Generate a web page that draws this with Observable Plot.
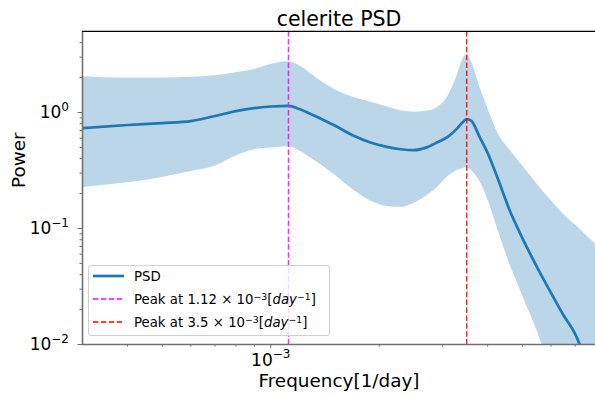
<!DOCTYPE html>
<html>
<head>
<meta charset="utf-8">
<script src="https://cdn.jsdelivr.net/npm/d3@7"></script>
<script src="https://cdn.jsdelivr.net/npm/@observablehq/plot@0.6"></script>
<style>
  html, body { margin: 0; padding: 0; background: white; }
  #wrap { position: relative; width: 595px; height: 397px; font-family: "DejaVu Sans", sans-serif; overflow: hidden; }
  #legend { position: absolute; left: 88px; top: 265px; width: 242px; height: 71px; border: 1px solid #d0d0d0; border-radius: 3px; background: rgba(255,255,255,0.8); box-sizing: border-box; }
  .row { position: absolute; left: 0; height: 20px; display: flex; align-items: center; font-size: 13.3px; white-space: nowrap; color: #000; }
  .row svg { margin-left: 4px; margin-right: 10px; }
  .row sup { font-size: 0.7em; vertical-align: 0.45em; line-height: 0; }
</style>
</head>
<body>
<div id="wrap"></div>
<script>
// ---- data ----
const freq = [3.0e-4, 4e-4, 5e-4, 6e-4, 7e-4, 8e-4, 9e-4, 1.0e-3, 1.12e-3, 1.2e-3, 1.3e-3, 1.4e-3, 1.5e-3, 1.7e-3, 1.9e-3, 2.1e-3, 2.3e-3, 2.5e-3, 2.7e-3, 2.9e-3, 3.1e-3, 3.3e-3, 3.4e-3, 3.5e-3, 3.6e-3, 3.8e-3, 4.0e-3, 4.3e-3, 4.6e-3, 5.0e-3, 5.5e-3, 6.0e-3, 6.5e-3, 7.0e-3, 7.5e-3, 8.0e-3, 8.5e-3];
const psd = [0.734, 0.780, 0.810, 0.843, 0.933, 1.028, 1.091, 1.126, 1.142, 1.07, 0.96, 0.862, 0.775, 0.630, 0.548, 0.506, 0.482, 0.474, 0.498, 0.553, 0.617, 0.734, 0.815, 0.877, 0.850, 0.617, 0.449, 0.254, 0.145, 0.0823, 0.0458, 0.0279, 0.01785, 0.01237, 0.0074, 0.00506, 0.0035];
const upper = [2.031, 1.980, 1.980, 2.012, 2.072, 2.203, 2.343, 2.588, 2.736, 2.527, 2.126, 1.800, 1.585, 1.344, 1.227, 1.120, 1.034, 1.006, 1.026, 1.10, 1.366, 2.113, 2.791, 3.144, 2.791, 1.682, 1.098, 0.639, 0.480, 0.347, 0.239, 0.174, 0.1328, 0.1076, 0.0877, 0.0724, 0.0593];
const lower = [0.2256, 0.2477, 0.2753, 0.310, 0.3438, 0.4209, 0.477, 0.4933, 0.5062, 0.4675, 0.399, 0.3424, 0.292, 0.2139, 0.1716, 0.155, 0.1523, 0.1649, 0.1895, 0.2252, 0.279, 0.3175, 0.3271, 0.3356, 0.3175, 0.2562, 0.18, 0.0918, 0.0503, 0.0265, 0.01295, 0.00597, 0.00296, 0.0015, 0.0008, 0.0004, 0.0002];
const peaks = [1.12e-3, 3.5e-3];
const peakColors = ["#ff00ff", "#ff0000"];
const xDomain = [3e-4, 8e-3];
const yDomain = [0.01, 5];
const xMajorTicks = [1e-3];
const xMinorTicks = [4e-4, 5e-4, 6e-4, 7e-4, 8e-4, 9e-4, 2e-3, 3e-3, 4e-3, 5e-3, 6e-3, 7e-3];
const yMajorTicks = [0.01, 0.1, 1];
const yMinorTicks = [0.02, 0.03, 0.04, 0.05, 0.06, 0.07, 0.08, 0.09, 0.2, 0.3, 0.4, 0.5, 0.6, 0.7, 0.8, 0.9, 2, 3, 4];
const titleText = "celerite PSD";
const xLabel = "Frequency[1/day]";
const yLabel = "Power";

const table = freq.map((f, i) => ({f, psd: psd[i], hi: upper[i], lo: lower[i]}));
const peakTable = peaks.map((p, i) => ({p, c: peakColors[i]}));
const fmtPow = d => `10^${Math.round(Math.log10(d))}`;

const chart = Plot.plot({
  width: 595,
  height: 397,
  marginLeft: 82,
  marginRight: 0,
  marginTop: 31,
  marginBottom: 53,
  style: {fontFamily: "DejaVu Sans", fontSize: "17px", background: "white", overflow: "visible"},
  x: {type: "log", domain: xDomain, range: [82, 595.5]},
  y: {type: "log", domain: yDomain, range: [344, 30.9]},
  marks: [
    Plot.areaY(table, {x: "f", y1: "lo", y2: "hi", fill: "#1f77b4", fillOpacity: 0.3, curve: "monotone-x", clip: true}),
    Plot.line(table, {x: "f", y: "psd", stroke: "#1f77b4", strokeWidth: 2.7, curve: "monotone-x", clip: true}),
    Plot.ruleX(peakTable, {x: "p", stroke: "c", strokeWidth: 1.5, strokeDasharray: "5.5,2.4", strokeOpacity: 0.85}),
    Plot.axisX({ticks: xMinorTicks, tickFormat: () => "", tickSize: 2.5, stroke: "#707070", label: null}),
    Plot.axisX({ticks: xMajorTicks, tickFormat: fmtPow, tickSize: 4, tickPadding: 5, stroke: "#707070", fill: "black", label: null, fontSize: 17}),
    Plot.axisY({ticks: yMinorTicks, tickFormat: () => "", tickSize: 2.5, stroke: "#707070", label: null}),
    Plot.axisY({ticks: yMajorTicks, tickFormat: fmtPow, tickSize: 4.5, tickPadding: 9, stroke: "#707070", fill: "black", label: null, fontSize: 17}),
    Plot.ruleX([xDomain[0]], {stroke: "#707070", strokeWidth: 1.6}),
    Plot.ruleY([yDomain[0]], {stroke: "#707070", strokeWidth: 1.6}),
    Plot.ruleY([yDomain[1]], {stroke: "black", strokeWidth: 1.1}),
    Plot.text([titleText], {frameAnchor: "top", dy: -12.5, fontSize: 20.5, fill: "black", lineAnchor: "middle"}),
    Plot.text([xLabel], {frameAnchor: "bottom", dy: 37, fontSize: 18.4, fill: "black", lineAnchor: "middle"}),
    Plot.text([yLabel], {frameAnchor: "left", dx: -63, rotate: -90, fontSize: 18.4, fill: "black", lineAnchor: "middle"})
  ]
});

// superscript formatting of tick labels (matplotlib mathtext style)
d3.select(chart).selectAll("text").each(function() {
  const t = d3.select(this);
  const s = t.text();
  if (!/^10\^/.test(s)) return;
  const [b, e] = s.split("^");
  t.text(null);
  t.append("tspan").text(b);
  t.append("tspan").attr("font-size", 12).attr("dy", -7.3).text(e.replace("-", "\u2212"));
});

const wrap = document.getElementById("wrap");
wrap.appendChild(chart);

// legend
const legend = document.createElement("div");
legend.id = "legend";
const entries = [
  {html: "PSD", color: "#1f77b4", dash: null, w: 2.7},
  {html: "Peak at 1.12 \u00d7 10<sup>\u22123</sup>[<i>day</i><sup>\u22121</sup>]", color: peakColors[0], dash: "5.5,2.4", w: 1.5},
  {html: "Peak at 3.5 \u00d7 10<sup>\u22123</sup>[<i>day</i><sup>\u22121</sup>]", color: peakColors[1], dash: "5.5,2.4", w: 1.5}
];
const rowTops = [0, 23.4, 46];
entries.forEach((e, i) => {
  const r = document.createElement("div");
  r.className = "row";
  r.style.top = rowTops[i] + "px";
  r.innerHTML = `<svg width="31" height="6"><line x1="0" x2="31" y1="3" y2="3" stroke="${e.color}" stroke-width="${e.w}" ${e.dash ? `stroke-dasharray="${e.dash}"` : ""}/></svg><span>${e.html}</span>`;
  legend.appendChild(r);
});
wrap.appendChild(legend);
</script>
</body>
</html>
